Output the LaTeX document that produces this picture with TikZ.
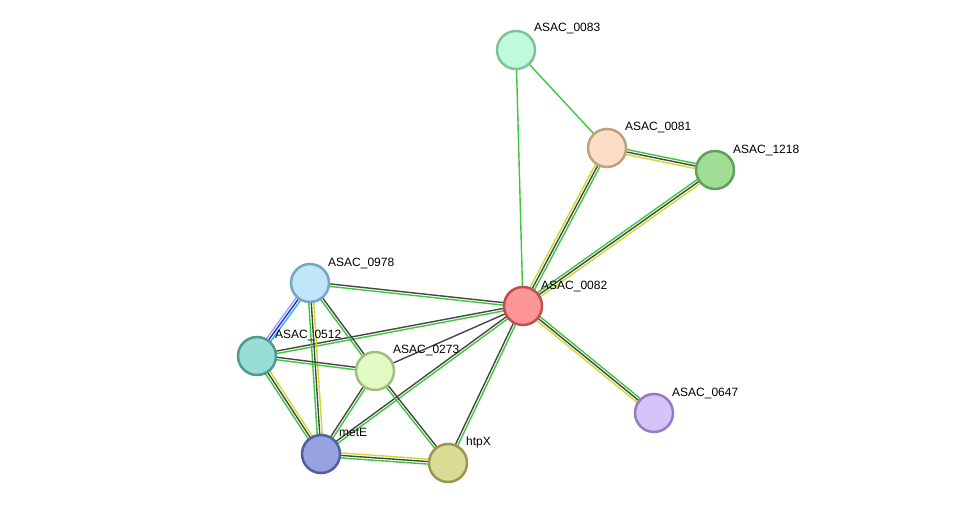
\documentclass[tikz,border=0pt]{standalone}
\usepackage{fontspec}
\setmainfont{Liberation Sans}
\usetikzlibrary{calc,backgrounds}
\definecolor{evgreen}{RGB}{60,200,60}
\definecolor{evblack}{RGB}{70,70,70}
\definecolor{evyellow}{RGB}{200,220,40}
\definecolor{evblue}{RGB}{40,40,230}
\definecolor{evlav}{RGB}{160,160,255}
\definecolor{evcyan}{RGB}{40,180,230}
\newcommand\evline[4]{\draw[ev,#3] ($(#1)!#4!90:(#2)$) -- ($(#2)!#4!-90:(#1)$);}
\tikzset{
  prot/.style={circle, minimum size=38pt, inner sep=0pt, line width=2.5pt},
  lab/.style={anchor=base west, font=\fontsize{12}{14}\selectfont, text=black, inner sep=0pt},
  ev/.style={line width=1.4pt}
}
\begin{document}
\begin{tikzpicture}[x=1pt,y=-1pt]
\useasboundingbox (0,0) rectangle (976,508);
% nodes
\node[prot, fill={rgb,255:red,192;green,250;blue,220}, draw={rgb,255:red,128;green,192;blue,155}] (n0083) at (516,50) {};
\node[prot, fill={rgb,255:red,253;green,222;blue,196}, draw={rgb,255:red,190;green,160;blue,130}] (n0081) at (607,148) {};
\node[prot, fill={rgb,255:red,160;green,222;blue,150}, draw={rgb,255:red,95;green,160;blue,90}] (n1218) at (715,170) {};
\node[prot, fill={rgb,255:red,255;green,150;blue,150}, draw={rgb,255:red,190;green,80;blue,80}] (n0082) at (523,306) {};
\node[prot, fill={rgb,255:red,192;green,230;blue,250}, draw={rgb,255:red,120;green,165;blue,195}] (n0978) at (310,283) {};
\node[prot, fill={rgb,255:red,152;green,222;blue,212}, draw={rgb,255:red,80;green,155;blue,145}] (n0512) at (257,356) {};
\node[prot, fill={rgb,255:red,226;green,250;blue,196}, draw={rgb,255:red,160;green,190;blue,130}] (n0273) at (375,371) {};
\node[prot, fill={rgb,255:red,152;green,162;blue,222}, draw={rgb,255:red,80;green,95;blue,160}] (nmetE) at (321,454) {};
\node[prot, fill={rgb,255:red,220;green,220;blue,150}, draw={rgb,255:red,155;green,150;blue,80}] (nhtpX) at (448,463) {};
\node[prot, fill={rgb,255:red,212;green,196;blue,250}, draw={rgb,255:red,150;green,125;blue,195}] (n0647) at (654,413) {};
% edges
\begin{scope}[on background layer]
\fill[white] (0,0) rectangle (976,508);
\evline{n0083}{n0082}{evgreen}{0pt}
\evline{n0083}{n0081}{evgreen}{0pt}
\evline{n0081}{n1218}{evgreen}{2.5pt}
\evline{n0081}{n1218}{evblack}{0pt}
\evline{n0081}{n1218}{evyellow}{-2.5pt}
\evline{n0081}{n0082}{evgreen}{2.5pt}
\evline{n0081}{n0082}{evblack}{0pt}
\evline{n0081}{n0082}{evyellow}{-2.5pt}
\evline{n1218}{n0082}{evyellow}{2.5pt}
\evline{n1218}{n0082}{evblack}{0pt}
\evline{n1218}{n0082}{evgreen}{-2.5pt}
\evline{n0082}{n0647}{evgreen}{2.5pt}
\evline{n0082}{n0647}{evblack}{0pt}
\evline{n0082}{n0647}{evyellow}{-2.5pt}
\evline{n0978}{n0082}{evblack}{1.25pt}
\evline{n0978}{n0082}{evgreen}{-1.25pt}
\evline{n0512}{n0082}{evblack}{1.25pt}
\evline{n0512}{n0082}{evgreen}{-1.25pt}
\evline{n0273}{n0082}{evblack}{0pt}
\evline{nmetE}{n0082}{evblack}{1.25pt}
\evline{nmetE}{n0082}{evgreen}{-1.25pt}
\evline{nhtpX}{n0082}{evblack}{1.25pt}
\evline{nhtpX}{n0082}{evgreen}{-1.25pt}
\evline{n0978}{n0512}{evcyan}{2.5pt}
\evline{n0978}{n0512}{evblue}{0pt}
\evline{n0978}{n0512}{evlav}{-2.5pt}
\evline{n0978}{n0273}{evblack}{1.25pt}
\evline{n0978}{n0273}{evgreen}{-1.25pt}
\evline{n0978}{nmetE}{evyellow}{2.5pt}
\evline{n0978}{nmetE}{evblack}{0pt}
\evline{n0978}{nmetE}{evgreen}{-2.5pt}
\evline{n0512}{n0273}{evblack}{1.25pt}
\evline{n0512}{n0273}{evgreen}{-1.25pt}
\evline{n0512}{nmetE}{evyellow}{2.5pt}
\evline{n0512}{nmetE}{evblack}{0pt}
\evline{n0512}{nmetE}{evgreen}{-2.5pt}
\evline{n0273}{nmetE}{evgreen}{1.25pt}
\evline{n0273}{nmetE}{evblack}{-1.25pt}
\evline{n0273}{nhtpX}{evblack}{1.25pt}
\evline{n0273}{nhtpX}{evgreen}{-1.25pt}
\evline{nmetE}{nhtpX}{evyellow}{2.5pt}
\evline{nmetE}{nhtpX}{evblack}{0pt}
\evline{nmetE}{nhtpX}{evgreen}{-2.5pt}
\end{scope}
% labels
\node[lab] (l0083) at (534,32) {ASAC\_0083};
\node[lab] (l0081) at (625,130) {ASAC\_0081};
\node[lab] (l1218) at (733,153) {ASAC\_1218};
\node[lab] (l0082) at (541,289) {ASAC\_0082};
\node[lab] (l0978) at (328,266) {ASAC\_0978};
\node[lab] (l0512) at (275,338) {ASAC\_0512};
\node[lab] (l0273) at (393,353) {ASAC\_0273};
\node[lab] (lmetE) at (339,436) {metE};
\node[lab] (lhtpX) at (466,445) {htpX};
\node[lab] (l0647) at (672,396) {ASAC\_0647};
\end{tikzpicture}
\end{document}
